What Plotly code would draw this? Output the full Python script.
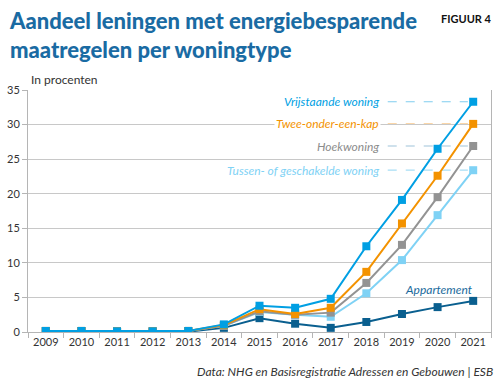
import plotly.graph_objects as go

years = ["2009", "2010", "2011", "2012", "2013", "2014", "2015", "2016", "2017", "2018", "2019", "2020", "2021"]
vrijstaande = [0.15, 0.15, 0.1, 0.1, 0.15, 1.1, 3.8, 3.5, 4.8, 12.4, 19.1, 26.5, 33.3]
twee_onder = [0.15, 0.15, 0.1, 0.1, 0.15, 1.0, 3.3, 2.6, 3.5, 8.7, 15.7, 22.6, 30.1]
hoekwoning = [0.15, 0.15, 0.1, 0.1, 0.15, 0.9, 3.0, 2.5, 2.8, 7.1, 12.6, 19.5, 26.9]
tussen = [0.15, 0.15, 0.1, 0.1, 0.15, 0.9, 2.9, 2.5, 2.2, 5.6, 10.4, 16.9, 23.4]
appartement = [0.1, 0.1, 0.05, 0.05, 0.05, 0.6, 2.0, 1.2, 0.6, 1.45, 2.6, 3.6, 4.5]

names = ["Appartement", "Tussen- of geschakelde woning", "Hoekwoning", "Twee-onder-een-kap", "Vrijstaande woning"]
series = [appartement, tussen, hoekwoning, twee_onder, vrijstaande]
colors = ["#0a5f8f", "#7fd2f5", "#939393", "#f39200", "#009fe3"]
label_colors = ["#1a6a9c", "#7fd2f5", "#8c8c8c", "#f39200", "#009fe3"]
dash_colors = [None, "#a8def5", "#9fc4da", "#f9c98c", "#80cdef"]

W, H = 500, 384
L, R, T, B = 28, 9, 90, 52
PW, PH = W - L - R, H - T - B


def px(x):
    return (x - L) / PW


def py(y):
    return (H - B - y) / PH


fig = go.Figure()
for n, s, c in zip(names, series, colors):
    fig.add_trace(go.Scatter(x=years, y=s, mode="lines+markers", name=n,
                             line=dict(color=c, width=2),
                             marker=dict(symbol="square", size=8, color=c)))

lab_font = "Lato, sans-serif"
for n, s, lc, dc in zip(names, series, label_colors, dash_colors):
    if n == "Appartement":
        fig.add_annotation(x=12.05, y=6.1, xref="x", yref="y", text="<i>" + n + "</i>",
                           showarrow=False, xanchor="right", yanchor="middle",
                           font=dict(family=lab_font, size=12, color=lc))
        continue
    fig.add_annotation(x=9.42, y=s[-1], xref="x", yref="y", text="<i>" + n + "</i>",
                       showarrow=False, xanchor="right", yanchor="middle",
                       bgcolor="white" if n == "Twee-onder-een-kap" else None,
                       borderpad=1,
                       font=dict(family=lab_font, size=12, color=lc))
    fig.add_shape(type="line", xref="x", yref="y", x0=9.6, x1=11.85, y0=s[-1], y1=s[-1],
                  line=dict(color=dc, width=1.2, dash="dash"), layer="below")

fig.update_layout(
    width=W, height=H,
    margin=dict(l=L, r=R, t=T, b=B, autoexpand=False),
    paper_bgcolor="white", plot_bgcolor="white",
    showlegend=False,
    font=dict(family="Lato, sans-serif", color="#333333", size=11),
    xaxis=dict(type="category", range=[-0.5, 12.5], showgrid=False, automargin=False,
               showline=True, linecolor="#b5b5b5", linewidth=1,
               ticks="outside", tickson="boundaries", ticklen=5, tickcolor="#b5b5b5",
               tickfont=dict(size=11, color="#333333")),
    yaxis=dict(range=[0, 35], dtick=5, showgrid=True, gridcolor="#c8c8c8", gridwidth=1,
               zeroline=False, showline=True, linecolor="#b5b5b5", mirror=True, automargin=False,
               ticks="outside", ticklen=5, tickcolor="#b5b5b5",
               tickfont=dict(size=11, color="#333333")),
)

fig.add_annotation(x=px(7), y=py(5), xref="paper", yref="paper",
                   text="Aandeel leningen met energiebesparende<br>maatregelen per woningtype",
                   showarrow=False, xanchor="left", yanchor="top", align="left",
                   font=dict(family="Lato, sans-serif", size=22, color="#1a6ba3", weight=900))
fig.add_annotation(x=px(494), y=py(10), xref="paper", yref="paper",
                   text="<b>FIGUUR 4</b>", showarrow=False, xanchor="right", yanchor="top",
                   font=dict(family="Lato, sans-serif", size=11, color="#111111"))
fig.add_annotation(x=px(29), y=py(70), xref="paper", yref="paper",
                   text="In procenten", showarrow=False, xanchor="left", yanchor="top",
                   font=dict(family="Lato, sans-serif", size=12, color="#333333"))
fig.add_annotation(x=px(495), y=py(362), xref="paper", yref="paper",
                   text="<i>Data: NHG en Basisregistratie Adressen en Gebouwen | ESB</i>",
                   showarrow=False, xanchor="right", yanchor="top",
                   font=dict(family="Lato, sans-serif", size=12, color="#333333"))

fig.write_html("out.html", config={"displayModeBar": False},
               post_script="document.body.style.margin='0';document.body.style.padding='0';")
